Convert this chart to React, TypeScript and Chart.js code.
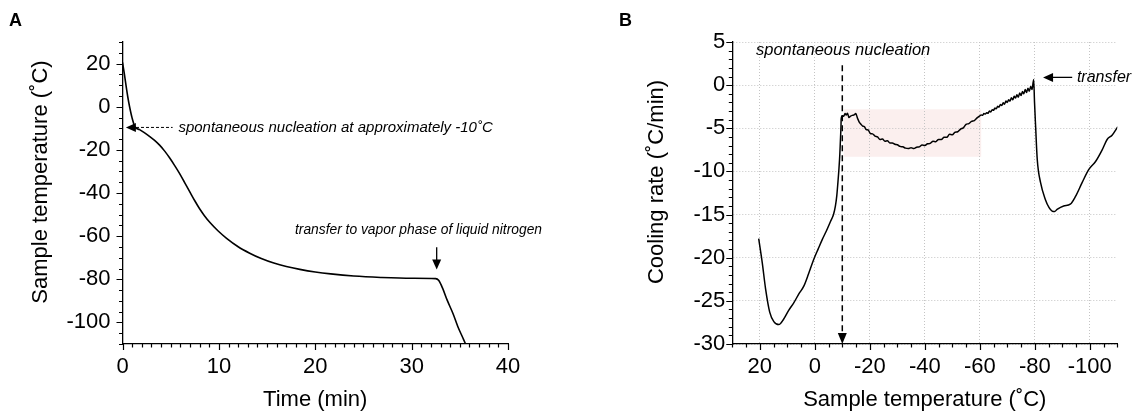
import React, { useEffect, useRef } from 'react';
import { Chart, registerables } from 'chart.js';

Chart.register(...registerables);

const FONT = '"Liberation Sans", Arial, Helvetica, sans-serif';

// ---------- Panel A: sample temperature vs time ----------
const timeMin = [
  0, 0.2, 0.38, 0.55, 0.73, 1.0, 1.3, 1.77, 2.3, 2.8, 3.3, 3.85, 4.4, 4.9, 5.4, 5.9, 6.45, 7.0, 7.5, 8.0,
  8.5, 9.1, 9.9, 10.8, 12.0, 13.2, 14.4, 15.7, 17.0, 18.4, 20.0, 21.6, 24.0, 26.8, 30.0, 32.5, 32.8, 33.2,
  33.7, 34.3, 34.8, 35.3, 35.6, 35.8,
];
const sampleTempA = [
  20.5, 15, 9.4, 4.5, 0.1, -5.3, -9.4, -10.6, -12.1, -13.7, -15.5, -17.8, -20.7, -23.8, -27.2, -30.8, -35.2,
  -39.6, -43.6, -47.3, -50.5, -53.8, -57.5, -61.0, -64.9, -67.9, -70.4, -72.5, -74.1, -75.4, -76.6, -77.5,
  -78.5, -79.15, -79.55, -79.7, -80.5, -84, -89.8, -96, -102, -107, -110, -112,
];
const aXMajor = [0, 10, 20, 30, 40];
const aYMajor = [20, 0, -20, -40, -60, -80, -100];

// ---------- Panel B: cooling rate vs sample temperature ----------
const sampleTempB = [
  20.4, 19.1, 17.9, 16.4, 14.9, 13.1, 11.3, 9.5, 7.6, 5.8, 4.0, 2.2, 0.4, -1.2, -2.7, -4.2, -5.7, -6.8, -7.5,
  -8.0, -8.4, -8.8, -9.1, -9.3, -9.5, -9.6, -10.0, -10.5, -11.0, -11.4, -11.9, -12.4, -13.0, -13.6, -14.3,
  -14.9, -15.5, -16.1, -16.7, -17.4, -18.0, -18.7, -19.4, -20.2, -21.0, -21.9, -22.8, -23.7, -24.6, -25.5,
  -26.4, -27.3, -28.2, -29.1, -30.0, -31.0, -32.0, -33.0, -34.0, -35.0, -36.0, -37.0, -38.0, -39.0, -40.0,
  -41.0, -42.0, -43.0, -44.0, -45.0, -46.0, -47.0, -48.0, -49.0, -50.0, -51.0, -52.0, -53.0, -54.0, -55.0,
  -56.0, -57.0, -58.0, -59.0, -60.0, -60.5, -61.0, -61.5, -62.0, -62.5, -63.0, -63.5, -64.0, -64.5, -65.0,
  -65.5, -66.0, -66.5, -67.0, -67.5, -68.0, -68.5, -69.0, -69.5, -70.0, -70.5, -71.0, -71.5, -72.0, -72.5,
  -73.0, -73.5, -74.0, -74.5, -75.0, -75.5, -76.0, -76.5, -77.0, -77.5, -78.0, -78.5, -79.0, -79.3, -79.6,
  -79.9, -80.3, -80.9, -82.1, -83.9, -85.2, -86.3, -87.2, -88.1, -90.5, -92.9, -94.8, -97.2, -99.6, -102.1,
  -104.5, -106.3, -108.1, -110.2,
];
const coolingRate = [
  -17.8, -20.6, -23.6, -26.3, -27.4, -27.75, -27.1, -26.1, -25.2, -24.2, -23.3, -21.8, -20.2, -19.0, -17.9,
  -16.9, -15.8, -15.0, -14.0, -12.8, -11.3, -9.6, -8.0, -6.5, -5.0, -3.9, -3.55, -3.6, -3.3, -3.45, -3.25,
  -3.75, -3.6, -3.5, -3.45, -3.3, -3.8, -4.25, -4.5, -4.75, -4.8, -5.15, -5.2, -5.6, -5.65, -5.9, -6.0, -6.3,
  -6.25, -6.5, -6.45, -6.7, -6.7, -6.85, -6.9, -7.1, -7.15, -7.3, -7.35, -7.25, -7.35, -7.2, -7.15, -6.95,
  -7.0, -6.8, -6.75, -6.5, -6.55, -6.3, -6.3, -6.05, -6.05, -5.7, -5.75, -5.45, -5.4, -5.1, -4.95, -4.55,
  -4.45, -4.2, -4.1, -3.8, -3.55, -3.45, -3.5, -3.3, -3.35, -3.2, -3.25, -3.0, -3.1, -2.85, -2.9, -2.65, -2.75,
  -2.45, -2.55, -2.25, -2.35, -2.05, -2.2, -1.85, -2.0, -1.7, -1.85, -1.45, -1.7, -1.3, -1.5, -1.1, -1.4,
  -0.9, -1.2, -0.75, -1.0, -0.5, -0.85, -0.35, -0.7, -0.15, -0.5, 0.1, 0.65, -2.0, -4.8, -8.65, -11.3, -13.3,
  -14.2, -14.6, -14.65, -14.4, -14.0, -13.8, -12.9, -11.3, -9.8, -8.85, -7.5, -6.3, -5.8, -4.8,
];
const bXMajor = [20, 0, -20, -40, -60, -80, -100];
const bYMajor = [5, 0, -5, -10, -15, -20, -25, -30];
// highlighted band (temperature range, rate range)
const bandTemp = [-10.5, -60.5];
const bandRate = [-2.8, -8.3];

const W = 571;
const H = 415;

function tickPlugin(xMajor: number[], yMajor: number[]) {
  return {
    id: 'originTicks',
    afterDraw(chart: any) {
      const { ctx, chartArea } = chart;
      const xs = chart.scales.x;
      const ys = chart.scales.y;
      ctx.save();
      ctx.strokeStyle = '#000';
      ctx.lineWidth = 1.2;
      ctx.beginPath();
      xs.ticks.forEach((t: any) => {
        const px = Math.round(xs.getPixelForValue(t.value)) + 0.5;
        const len = xMajor.includes(t.value) ? 6 : 3.5;
        ctx.moveTo(px, chartArea.bottom);
        ctx.lineTo(px, chartArea.bottom + len);
      });
      ys.ticks.forEach((t: any) => {
        const py = Math.round(ys.getPixelForValue(t.value)) + 0.5;
        const len = yMajor.includes(t.value) ? 6 : 3.5;
        ctx.moveTo(chartArea.left, py);
        ctx.lineTo(chartArea.left - len, py);
      });
      ctx.stroke();
      ctx.restore();
    },
  };
}

function titlesPlugin(letter: string, letterX: number, xTitle: string, yTitle: string, yTitleX: number) {
  return {
    id: 'titles',
    afterDraw(chart: any) {
      const { ctx, chartArea } = chart;
      ctx.save();
      ctx.fillStyle = '#000';
      ctx.font = `bold 18px ${FONT}`;
      ctx.textAlign = 'left';
      ctx.textBaseline = 'alphabetic';
      ctx.fillText(letter, letterX, 26);
      ctx.font = `22px ${FONT}`;
      ctx.textAlign = 'center';
      ctx.textBaseline = 'middle';
      ctx.fillText(xTitle, (chartArea.left + chartArea.right) / 2, 400);
      ctx.translate(yTitleX, 182);
      ctx.rotate(-Math.PI / 2);
      ctx.fillText(yTitle, 0, 0);
      ctx.restore();
    },
  };
}

function arrowHead(ctx: any, x: number, y: number, dir: 'left' | 'down', len: number, half: number) {
  ctx.beginPath();
  if (dir === 'left') {
    ctx.moveTo(x, y);
    ctx.lineTo(x + len, y - half);
    ctx.lineTo(x + len, y + half);
  } else {
    ctx.moveTo(x, y);
    ctx.lineTo(x - half, y - len);
    ctx.lineTo(x + half, y - len);
  }
  ctx.closePath();
  ctx.fill();
}

const annotA = {
  id: 'annotA',
  afterDatasetsDraw(chart: any) {
    const { ctx } = chart;
    const xs = chart.scales.x;
    const ys = chart.scales.y;
    ctx.save();
    ctx.fillStyle = '#000';
    ctx.strokeStyle = '#000';
    // nucleation arrow
    const ny = ys.getPixelForValue(-9.6);
    const tipX = xs.getPixelForValue(0.35);
    const baseX = xs.getPixelForValue(1.4);
    const endX = xs.getPixelForValue(5.2);
    ctx.lineWidth = 1;
    ctx.setLineDash([3, 2]);
    ctx.beginPath();
    ctx.moveTo(baseX, ny);
    ctx.lineTo(endX, ny);
    ctx.stroke();
    ctx.setLineDash([]);
    arrowHead(ctx, tipX, ny, 'left', 10, 4.5);
    ctx.font = `italic 15px ${FONT}`;
    ctx.textAlign = 'left';
    ctx.textBaseline = 'middle';
    ctx.fillText('spontaneous nucleation at approximately -10˚C', xs.getPixelForValue(5.8), ny);
    // transfer arrow
    const tx = xs.getPixelForValue(32.6);
    const topY = ys.getPixelForValue(-65.2);
    const tipY = ys.getPixelForValue(-75.5);
    ctx.lineWidth = 1.3;
    ctx.beginPath();
    ctx.moveTo(tx, topY);
    ctx.lineTo(tx, tipY - 8);
    ctx.stroke();
    arrowHead(ctx, tx, tipY, 'down', 10, 4.5);
    ctx.font = `italic 13.8px ${FONT}`;
    ctx.fillText('transfer to vapor phase of liquid nitrogen', xs.getPixelForValue(17.9), ys.getPixelForValue(-57));
    ctx.restore();
  },
};

const bandB = {
  id: 'bandB',
  beforeDraw(chart: any) {
    const { ctx } = chart;
    const xs = chart.scales.x;
    const ys = chart.scales.y;
    const x1 = xs.getPixelForValue(bandTemp[0]);
    const x2 = xs.getPixelForValue(bandTemp[1]);
    const y1 = ys.getPixelForValue(bandRate[0]);
    const y2 = ys.getPixelForValue(bandRate[1]);
    ctx.save();
    ctx.fillStyle = '#fbefee';
    ctx.fillRect(Math.min(x1, x2), Math.min(y1, y2), Math.abs(x2 - x1), Math.abs(y2 - y1));
    ctx.restore();
  },
};

const annotB = {
  id: 'annotB',
  afterDatasetsDraw(chart: any) {
    const { ctx, chartArea } = chart;
    const xs = chart.scales.x;
    const ys = chart.scales.y;
    ctx.save();
    ctx.fillStyle = '#000';
    ctx.strokeStyle = '#000';
    // nucleation dashed line
    const nx = xs.getPixelForValue(-10);
    const topY = ys.getPixelForValue(2.3);
    const botY = chartArea.bottom;
    ctx.lineWidth = 1.5;
    ctx.setLineDash([6, 4]);
    ctx.beginPath();
    ctx.moveTo(nx, topY);
    ctx.lineTo(nx, botY - 10);
    ctx.stroke();
    ctx.setLineDash([]);
    arrowHead(ctx, nx, botY, 'down', 11, 4.5);
    ctx.font = `italic 16.5px ${FONT}`;
    ctx.textAlign = 'left';
    ctx.textBaseline = 'middle';
    ctx.fillText('spontaneous nucleation', xs.getPixelForValue(21.4), ys.getPixelForValue(4.05));
    // transfer arrow
    const ay = ys.getPixelForValue(0.9);
    const tip = xs.getPixelForValue(-83);
    const tail = xs.getPixelForValue(-93.6);
    ctx.lineWidth = 1.3;
    ctx.beginPath();
    ctx.moveTo(tip + 8, ay);
    ctx.lineTo(tail, ay);
    ctx.stroke();
    arrowHead(ctx, tip, ay, 'left', 10, 4.5);
    ctx.font = `italic 16px ${FONT}`;
    ctx.fillText('transfer', xs.getPixelForValue(-95.3), ay);
    ctx.restore();
  },
};

const tickFont = { family: FONT, size: 22 };

function configA(): any {
  return {
    type: 'line',
    data: {
      datasets: [
        {
          data: timeMin.map((t, i) => ({ x: t, y: sampleTempA[i] })),
          borderColor: '#000',
          borderWidth: 1.6,
          pointRadius: 0,
          cubicInterpolationMode: 'monotone',
        },
      ],
    },
    options: {
      animation: false,
      responsive: false,
      devicePixelRatio: 1,
      layout: { padding: { left: 0, right: W - 508, top: 42, bottom: 0 } },
      plugins: { legend: { display: false }, tooltip: { enabled: false } },
      scales: {
        x: {
          type: 'linear',
          min: 0,
          max: 40,
          grid: { display: false, drawTicks: false },
          border: { display: true, color: '#000', width: 1.3 },
          ticks: {
            stepSize: 1,
            autoSkip: false,
            maxRotation: 0,
            padding: 10,
            color: '#000',
            font: tickFont,
            callback: (v: number) => (aXMajor.includes(v) ? String(v) : ''),
          },
          afterFit: (s: any) => {
            s.height = H - 344;
          },
        },
        y: {
          type: 'linear',
          min: -110,
          max: 30,
          grid: { display: false, drawTicks: false },
          border: { display: true, color: '#000', width: 1.3 },
          ticks: {
            stepSize: 5,
            autoSkip: false,
            padding: 12,
            color: '#000',
            font: tickFont,
            callback: (v: number) => (aYMajor.includes(v) ? String(v) : ''),
          },
          afterFit: (s: any) => {
            s.width = 122.5;
          },
        },
      },
    },
    plugins: [
      tickPlugin(aXMajor, aYMajor),
      titlesPlugin('A', 9, 'Time (min)', 'Sample temperature (˚C)', 41),
      annotA,
    ],
  };
}

function configB(): any {
  const gridColor = (majors: number[]) => (ctx: any) =>
    ctx.tick && majors.includes(ctx.tick.value) ? '#c4c4c4' : 'rgba(0,0,0,0)';
  return {
    type: 'line',
    data: {
      datasets: [
        {
          data: sampleTempB.map((t, i) => ({ x: t, y: coolingRate[i] })),
          borderColor: '#000',
          borderWidth: 1.5,
          pointRadius: 0,
          cubicInterpolationMode: 'monotone',
        },
      ],
    },
    options: {
      animation: false,
      responsive: false,
      devicePixelRatio: 1,
      layout: { padding: { left: 0, right: W - 546.3, top: 42, bottom: 0 } },
      plugins: { legend: { display: false }, tooltip: { enabled: false } },
      scales: {
        x: {
          type: 'linear',
          min: -110,
          max: 30,
          reverse: true,
          grid: { display: true, drawTicks: false, color: gridColor(bXMajor), lineWidth: 1 },
          border: { display: true, color: '#000', width: 1.3, dash: [1, 2] },
          ticks: {
            stepSize: 5,
            autoSkip: false,
            maxRotation: 0,
            padding: 10,
            color: '#000',
            font: tickFont,
            callback: (v: number) => (bXMajor.includes(v) ? String(v) : ''),
          },
          afterFit: (s: any) => {
            s.height = H - 344;
          },
        },
        y: {
          type: 'linear',
          min: -30,
          max: 5,
          grid: { display: true, drawTicks: false, color: gridColor(bYMajor), lineWidth: 1 },
          border: { display: true, color: '#000', width: 1.3, dash: [1, 2] },
          ticks: {
            stepSize: 1,
            autoSkip: false,
            padding: 7,
            color: '#000',
            font: tickFont,
            callback: (v: number) => (bYMajor.includes(v) ? String(v) : ''),
          },
          afterFit: (s: any) => {
            s.width = 161.3;
          },
        },
      },
    },
    plugins: [
      bandB,
      tickPlugin(bXMajor, bYMajor),
      titlesPlugin('B', 48, 'Sample temperature (˚C)', 'Cooling rate (˚C/min)', 86),
      annotB,
    ],
  };
}

export default function App() {
  const refA = useRef<HTMLCanvasElement | null>(null);
  const refB = useRef<HTMLCanvasElement | null>(null);
  useEffect(() => {
    const a = new Chart(refA.current as HTMLCanvasElement, configA());
    const b = new Chart(refB.current as HTMLCanvasElement, configB());
    return () => {
      a.destroy();
      b.destroy();
    };
  }, []);
  return (
    <div style={{ position: 'fixed', left: 0, top: 0, width: 1142, height: 415, background: '#fff' }}>
      <canvas
        ref={refA}
        width={W}
        height={H}
        style={{ position: 'absolute', left: 0, top: 0, width: W, height: H }}
      />
      <canvas
        ref={refB}
        width={W}
        height={H}
        style={{ position: 'absolute', left: W, top: 0, width: W, height: H }}
      />
    </div>
  );
}
